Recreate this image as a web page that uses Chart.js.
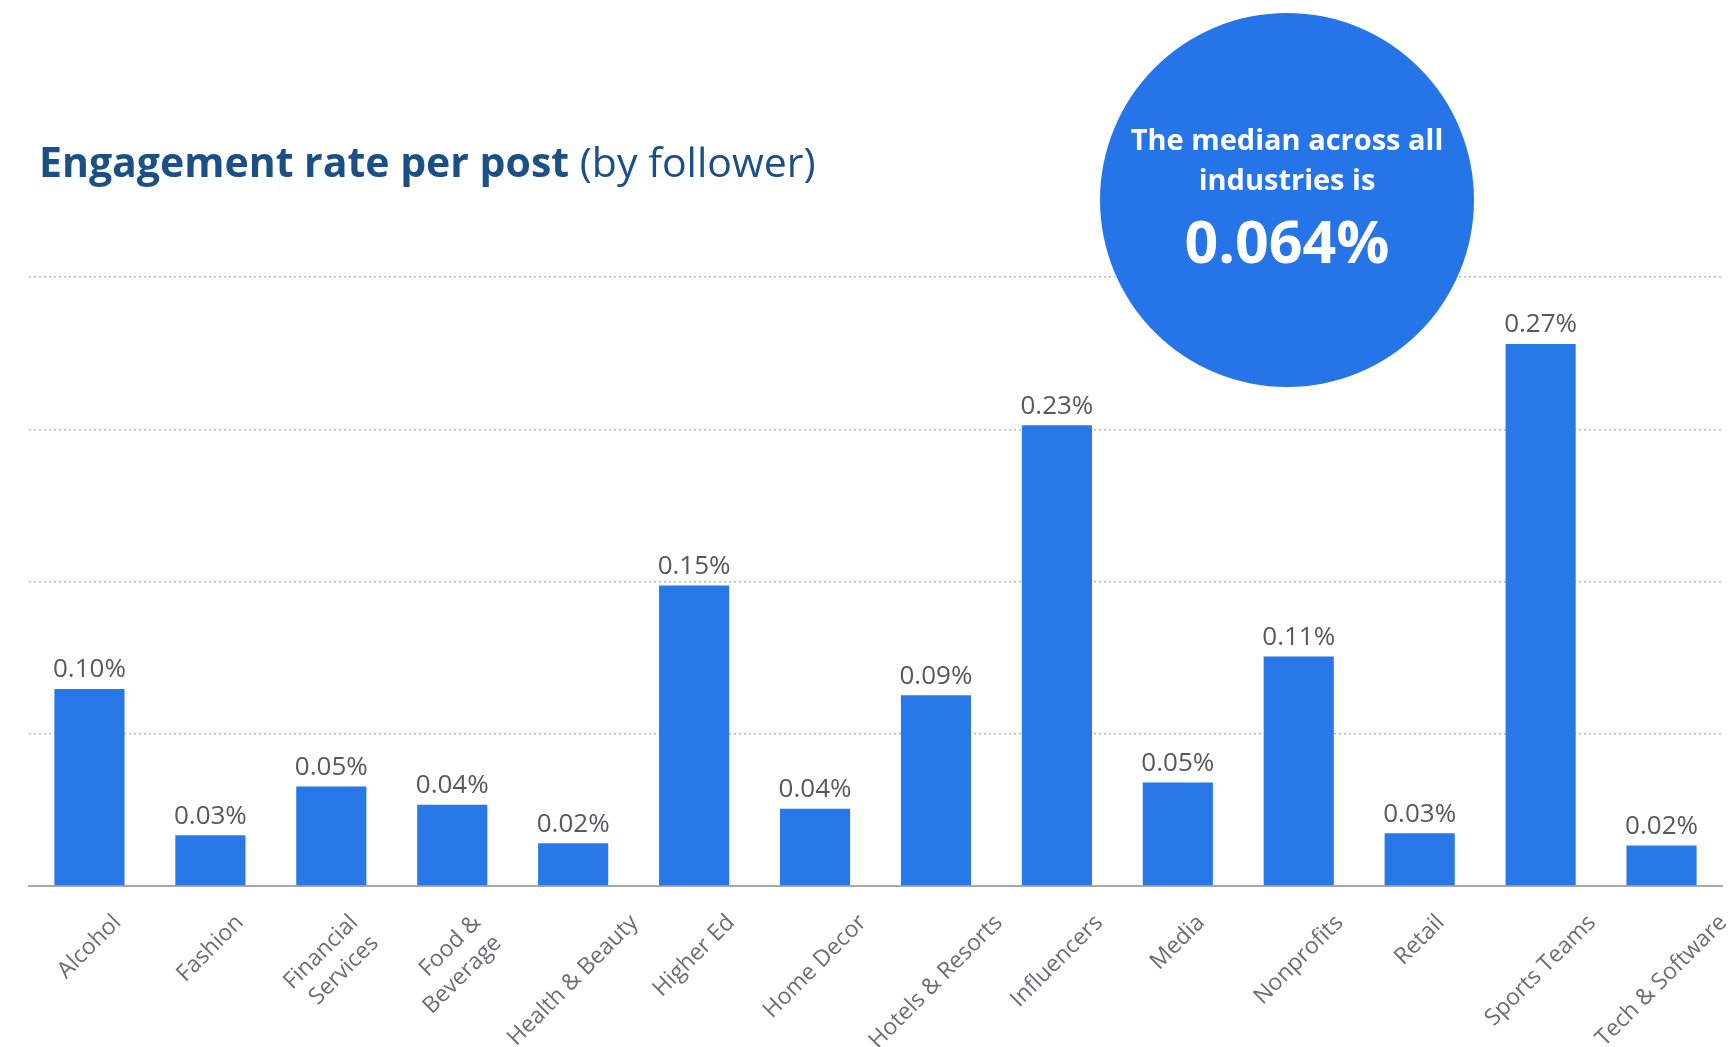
<!DOCTYPE html>
<html>
<head>
<meta charset="utf-8">
<script src="https://cdn.jsdelivr.net/npm/chart.js@4/dist/chart.umd.min.js"></script>
<style>
  html, body { margin: 0; padding: 0; background: #fff; }
  body { width: 1733px; height: 1047px; position: relative; overflow: hidden; font-family: "Open Sans", sans-serif; }
  #wrap { position: absolute; left: 0; top: 0; width: 1733px; height: 1047px; }
  .title { position: absolute; left: 39px; top: 133px; font-size: 41px; color: #1b4f86; white-space: nowrap; }
  .title b { font-weight: 700; }
  .title span { font-weight: 400; }
  .badge {
    position: absolute; left: 1100px; top: 13px; width: 374px; height: 374px;
    border-radius: 50%; background: #2575e9; color: #fff; text-align: center;
  }
  .badge .l1 { position: absolute; left: 0; right: 0; top: 106px; font-size: 29px; font-weight: 700; line-height: 40px; }
  .badge .big { position: absolute; left: 0; right: 0; top: 197px; font-size: 59px; font-weight: 700; line-height: 60px; }
</style>
</head>
<body>
<div id="wrap"><canvas id="chart"></canvas></div>
<div class="title"><b>Engagement rate per post</b> <span>(by follower)</span></div>
<div class="badge">
  <div class="l1">The median across all<br>industries is</div>
  <div class="big">0.064%</div>
</div>
<script>
// industries along the x axis
const categories = [
  'Alcohol', 'Fashion', ['Financial', 'Services'], ['Food &', 'Beverage'], 'Health & Beauty',
  'Higher Ed', 'Home Decor', 'Hotels & Resorts', 'Influencers', 'Media',
  'Nonprofits', 'Retail', 'Sports Teams', 'Tech & Software'
];
// engagement rate per post, %
const rates = [0.097, 0.025, 0.049, 0.040, 0.021, 0.148, 0.038, 0.094, 0.227, 0.051, 0.113, 0.026, 0.267, 0.020];
// printed value labels
const rateLabels = ['0.10%', '0.03%', '0.05%', '0.04%', '0.02%', '0.15%', '0.04%', '0.09%', '0.23%', '0.05%', '0.11%', '0.03%', '0.27%', '0.02%'];
const yTicks = [0, 0.075, 0.15, 0.225, 0.3];

const FONT = '"Open Sans", sans-serif';

// draws the value text above each bar
const valueLabels = {
  id: 'valueLabels',
  afterDatasetsDraw(chart) {
    const { ctx } = chart;
    const meta = chart.getDatasetMeta(0);
    ctx.save();
    ctx.font = `26px ${FONT}`;
    ctx.fillStyle = '#55585d';
    ctx.textAlign = 'center';
    ctx.textBaseline = 'bottom';
    meta.data.forEach((bar, i) => {
      ctx.fillText(rateLabels[i], bar.x, bar.y - 6);
    });
    ctx.restore();
  }
};

// rotated category labels, each centred on its tick (like the source chart)
const categoryLabels = {
  id: 'categoryLabels',
  afterDraw(chart) {
    const { ctx } = chart;
    const xs = chart.scales.x;
    const lh = 29;
    const k = Math.SQRT1_2;
    ctx.save();
    ctx.font = `23px ${FONT}`;
    ctx.fillStyle = '#6a6d72';
    ctx.textAlign = 'right';
    ctx.textBaseline = 'middle';
    categories.forEach((label, i) => {
      const lines = Array.isArray(label) ? label : [label];
      const w = Math.max(...lines.map(l => ctx.measureText(l).width));
      const px = xs.getPixelForValue(i) + k * 0.5 * (w - (lines.length - 1) * lh);
      const py = xs.top + 33;
      ctx.save();
      ctx.translate(px, py);
      ctx.rotate(-Math.PI / 4);
      lines.forEach((l, j) => ctx.fillText(l, 0, j * lh));
      ctx.restore();
    });
    ctx.restore();
  }
};

const ctx = document.getElementById('chart').getContext('2d');
new Chart(ctx, {
  type: 'bar',
  data: {
    labels: categories,
    datasets: [{
      data: rates,
      backgroundColor: '#2878e8',
      borderWidth: 0,
      categoryPercentage: 1,
      barPercentage: 0.58
    }]
  },
  options: {
    responsive: true,
    maintainAspectRatio: false,
    animation: false,
    layout: { padding: { top: 277, left: 29, right: 11, bottom: 0 } },
    plugins: {
      legend: { display: false },
      title: { display: false },
      tooltip: { enabled: false }
    },
    scales: {
      y: {
        min: yTicks[0],
        max: yTicks[yTicks.length - 1],
        afterBuildTicks: (axis) => { axis.ticks = yTicks.map(v => ({ value: v })); },
        ticks: { display: false },
        border: { display: false, dash: [2, 3] },
        grid: {
          drawTicks: false,
          lineWidth: 1.5,
          color: (c) => c.tick && c.tick.value === 0 ? 'rgba(0,0,0,0)' : '#b8b8b8'
        }
      },
      x: {
        afterFit: (axis) => { axis.height = 161; },
        grid: { display: false },
        border: { display: true, color: '#a9a9a9', width: 2 },
        ticks: { display: false }
      }
    }
  },
  plugins: [valueLabels, categoryLabels]
});
</script>
</body>
</html>
